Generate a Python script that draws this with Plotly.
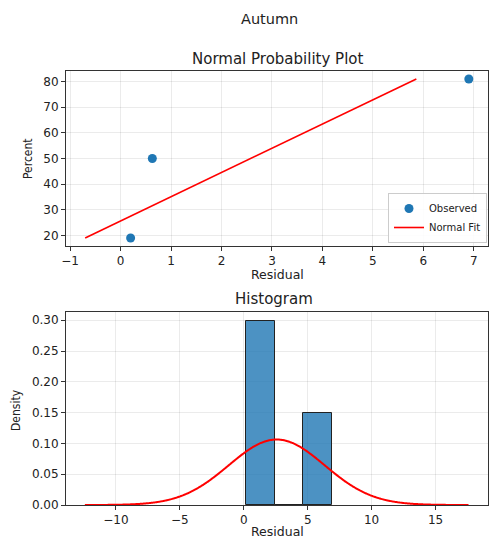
import numpy as np
import plotly.graph_objects as go

# Data
residuals = [0.2, 0.63, 6.9]
percents = [19.0, 50.0, 81.0]
fit_x = [-0.70, 5.86]
fit_pct = [19.0, 81.0]
hist_start, hist_end, n_bins = 0.2, 6.9, 3

counts, edges = np.histogram(residuals, bins=n_bins, range=(hist_start, hist_end), density=True)
centers = (edges[:-1] + edges[1:]) / 2
widths = np.diff(edges)

mean = float(np.mean(residuals))
sd = float(np.std(residuals, ddof=1))
curve_x = np.linspace(mean - 4 * sd, mean + 4 * sd, 400)
curve_y = np.exp(-0.5 * ((curve_x - mean) / sd) ** 2) / (sd * np.sqrt(2 * np.pi))

W, H = 489, 540
def px_x(p): return p / W
def px_y(p): return 1 - p / H

FONT = "DejaVu Sans"
fig = go.Figure()

fig.add_trace(go.Scatter(x=residuals, y=percents, mode="markers", name="Observed",
                         marker=dict(color="#1f77b4", size=9), xaxis="x", yaxis="y"))
fig.add_trace(go.Scatter(x=fit_x, y=fit_pct, mode="lines", name="Normal Fit",
                         line=dict(color="red", width=1.6), xaxis="x", yaxis="y"))

fig.add_trace(go.Bar(x=centers, y=counts, width=widths,
                     marker=dict(color="rgba(31,119,180,0.8)",
                                 line=dict(color="#222", width=1)),
                     showlegend=False, xaxis="x2", yaxis="y2"))
fig.add_trace(go.Scatter(x=curve_x, y=curve_y, mode="lines", showlegend=False,
                         line=dict(color="red", width=2, shape="spline"), xaxis="x2", yaxis="y2"))

axis_common = dict(showline=True, linecolor="#333", linewidth=1, mirror=True,
                   ticks="outside", ticklen=4, tickcolor="#333",
                   showgrid=True, gridcolor="rgba(0,0,0,0.08)", gridwidth=1,
                   zeroline=False, tickfont=dict(family=FONT, size=12, color="#222"))

def ann(text, x, y, size, angle=0, family=FONT):
    return dict(text=text, x=px_x(x), y=px_y(y), xref="paper", yref="paper",
                xanchor="center", yanchor="middle", showarrow=False, textangle=angle,
                font=dict(size=size, family=family, color="#222"))

fig.update_layout(
    width=W, height=H, margin=dict(l=0, r=0, t=0, b=0, autoexpand=False),
    paper_bgcolor="white", plot_bgcolor="white",
    font=dict(family=FONT, color="#222"),
    bargap=0,
    xaxis=dict(domain=[px_x(66), px_x(488)], anchor="y", range=[-1.08, 7.28],
               dtick=1, **axis_common),
    yaxis=dict(domain=[px_y(246), px_y(71)], anchor="x", range=[15.9, 84.1],
               dtick=10, **axis_common),
    xaxis2=dict(domain=[px_x(66), px_x(488)], anchor="y2", range=[-13.9, 19.1],
                dtick=5, **axis_common),
    yaxis2=dict(domain=[px_y(505), px_y(312)], anchor="x2", range=[0, 0.3134],
                dtick=0.05, tickformat=".2f", **axis_common),
    legend=dict(x=px_x(487), y=px_y(243), xanchor="right", yanchor="bottom",
                bgcolor="rgba(255,255,255,0.9)", bordercolor="#ccc", borderwidth=1,
                font=dict(family=FONT, size=10, color="#222"),
                tracegroupgap=0, itemwidth=30),
    annotations=[
        ann("Autumn", 269, 19, 14.5),
        ann("Normal Probability Plot", 277, 59, 15),
        ann("Histogram", 274, 299, 15),
        ann("Residual", 277, 274, 12.5),
        ann("Residual", 277, 531, 12.5),
        ann("Percent", 28, 159, 12, -90, "DejaVu Sans Condensed"),
        ann("Density", 16, 410, 12, -90, "DejaVu Sans Condensed"),
    ],
)

fig.write_html("out.html", config={"displayModeBar": False},
               post_script="document.body.style.margin='0';document.body.style.overflow='hidden';")
